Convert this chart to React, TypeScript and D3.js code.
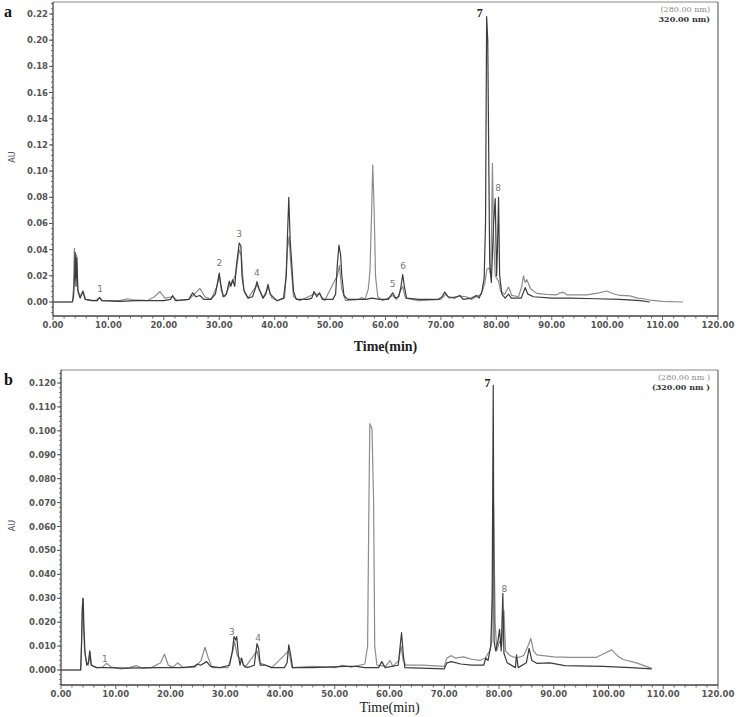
import React from "react";
import * as d3 from "d3";

// chromatogram traces, [time (min), absorbance (AU)]
const aTrace280: [number, number][] = [
  [0, 0], [3.5, 0], [3.7, 0.01], [3.85, 0.041], [4.05, 0.02], [4.25, 0.036], [4.45, 0.01], [4.9, 0.004], [5.4, 0.0085], [5.9, 0.002],
  [7.5, 0.001], [8.4, 0.003], [9, 0.001], [12, 0.001], [13.5, 0.0025], [14.5, 0.0015], [15.7, 0.0015], [17, 0.001], [18.3, 0.004], [19.3, 0.008],
  [20.2, 0.003], [21.6, 0.004], [22.5, 0.001], [24.5, 0.002], [25.3, 0.005], [26.5, 0.0104], [27.4, 0.004], [28.5, 0.002], [29.6, 0.012], [30.0, 0.02],
  [30.4, 0.008], [31, 0.004], [32, 0.014], [32.4, 0.015], [33.0, 0.022], [33.6, 0.04], [34.0, 0.035], [34.4, 0.01], [35.2, 0.003], [36.8, 0.013],
  [37.9, 0.003], [38.8, 0.011], [39.5, 0.003], [40.5, 0.001], [41.8, 0.003], [42.3, 0.04], [42.6, 0.05], [42.9, 0.03], [43.4, 0.004], [44.5, 0.001],
  [47.1, 0.006], [48.1, 0.006], [49, 0.001], [51.3, 0.02], [51.7, 0.028], [52.1, 0.01], [52.8, 0.001], [55.2, 0.002], [55.7, 0.0035], [56.3, 0.002],
  [56.9, 0.01], [57.2, 0.024], [57.5, 0.07], [57.7, 0.1045], [57.95, 0.071], [58.2, 0.02], [58.6, 0.004], [59.5, 0.001], [61.3, 0.005], [62, 0.002],
  [63.1, 0.012], [63.6, 0.003], [66, 0.001], [70, 0.002], [70.9, 0.006], [71.5, 0.003], [72.5, 0.004], [73.4, 0.0045], [74.6, 0.004], [75.5, 0.002],
  [76.4, 0.004], [77.3, 0.006], [77.9, 0.014], [78.3, 0.025], [78.7, 0.026], [79.0, 0.02], [79.15, 0.06], [79.3, 0.106], [79.5, 0.05], [79.8, 0.02],
  [80.4, 0.016], [80.8, 0.008], [81.5, 0.006], [82.2, 0.0114], [82.8, 0.005], [84, 0.004], [84.6, 0.012], [84.9, 0.02], [85.2, 0.015], [85.5, 0.017],
  [86.2, 0.01], [87.3, 0.0066], [89, 0.0058], [90.9, 0.0055], [91.5, 0.007], [92.1, 0.0074], [92.7, 0.0055], [96.3, 0.0055], [98.5, 0.007], [99.9, 0.0084],
  [101, 0.0065], [102.3, 0.005], [104.1, 0.0047], [105.5, 0.003], [106.5, 0.0025], [107.7, 0.0015], [110, 0.0005], [113.7, 0],
];

const aTrace320: [number, number][] = [
  [0, 0], [3.5, 0], [3.7, 0.004], [3.9, 0.02], [4.0, 0.038], [4.15, 0.012], [4.3, 0.034], [4.5, 0.008], [4.9, 0.003], [5.4, 0.008],
  [5.8, 0.002], [7, 0.001], [8.0, 0.001], [8.4, 0.0035], [8.8, 0.001], [12, 0.0005], [15, 0.001], [18, 0.001], [20, 0.001], [21.2, 0.002],
  [21.6, 0.005], [22.1, 0.001], [24.5, 0.002], [25.2, 0.007], [25.8, 0.004], [26.5, 0.005], [27.2, 0.002], [28.5, 0.002], [29.3, 0.006], [29.7, 0.015],
  [30.0, 0.022], [30.3, 0.013], [30.7, 0.004], [31.3, 0.006], [31.8, 0.016], [32.1, 0.012], [32.4, 0.017], [32.8, 0.012], [33.1, 0.028], [33.4, 0.038],
  [33.6, 0.045], [33.9, 0.043], [34.1, 0.02], [34.5, 0.008], [35.2, 0.003], [36.0, 0.004], [36.5, 0.01], [36.8, 0.0155], [37.2, 0.01], [37.9, 0.003],
  [38.4, 0.006], [38.8, 0.0135], [39.2, 0.006], [40.4, 0.001], [41.6, 0.003], [42.1, 0.02], [42.3, 0.049], [42.55, 0.08], [42.8, 0.047], [43.1, 0.028],
  [43.4, 0.008], [43.9, 0.002], [46.0, 0.002], [46.7, 0.003], [47.1, 0.008], [47.6, 0.004], [48.1, 0.007], [48.6, 0.002], [50.5, 0.002], [51.0, 0.006],
  [51.3, 0.028], [51.6, 0.0435], [51.9, 0.036], [52.1, 0.021], [52.5, 0.005], [53.2, 0.002], [56.5, 0.002], [57.5, 0.003], [59, 0.002], [60.5, 0.002],
  [61.3, 0.007], [61.8, 0.003], [62.4, 0.004], [62.8, 0.012], [63.1, 0.021], [63.4, 0.012], [63.8, 0.003], [66, 0.002], [69.5, 0.002], [70.2, 0.004],
  [70.7, 0.0075], [71.3, 0.004], [72.5, 0.003], [73.4, 0.005], [74, 0.002], [75.5, 0.003], [76.4, 0.005], [76.9, 0.003], [77.4, 0.008], [77.8, 0.018],
  [78.05, 0.06], [78.25, 0.218], [78.45, 0.2], [78.6, 0.126], [78.8, 0.03], [79.1, 0.015], [79.5, 0.06], [79.8, 0.079], [80.05, 0.02], [80.2, 0.04],
  [80.4, 0.08], [80.6, 0.02], [81.0, 0.006], [81.6, 0.003], [82.2, 0.006], [82.7, 0.003], [84.5, 0.003], [85.2, 0.011], [85.7, 0.006], [86.7, 0.004],
  [90, 0.003], [93.3, 0.003], [98, 0.0025], [102.3, 0.002], [106, 0.001], [107.7, 0],
];

const bTrace280: [number, number][] = [
  [0, 0], [3.6, 0], [3.75, 0.012], [3.95, 0.03], [4.1, 0.02], [4.3, 0.008], [4.6, 0.004], [5.0, 0.002], [5.3, 0.0075], [5.6, 0.002],
  [6.5, 0.001], [7.6, 0.0012], [8.3, 0.0028], [9.2, 0.0012], [11, 0.0005], [12.5, 0.001], [13.8, 0.0018], [14.8, 0.0008], [16.5, 0.001], [18.2, 0.003],
  [18.9, 0.0066], [19.6, 0.002], [20.5, 0.0012], [21.3, 0.003], [22.3, 0.001], [24.5, 0.0012], [25.6, 0.004], [26.3, 0.0095], [26.9, 0.005], [27.6, 0.001],
  [30.5, 0.001], [31.4, 0.008], [31.7, 0.012], [32.2, 0.006], [33, 0.004], [33.6, 0.001], [35.8, 0.008], [36.3, 0.003], [37.4, 0.002], [38.5, 0.001],
  [41.6, 0.008], [42.2, 0.001], [46, 0.0015], [50, 0.001], [51.4, 0.002], [53, 0.0012], [54.5, 0.002], [55.5, 0.0025], [56.0, 0.01], [56.2, 0.06],
  [56.4, 0.103], [56.8, 0.101], [57.1, 0.07], [57.3, 0.01], [57.7, 0.002], [59.3, 0.0015], [60.1, 0.004], [60.6, 0.0015], [61.7, 0.004], [62.1, 0.01],
  [62.5, 0.004], [63, 0.002], [66, 0.002], [70, 0.0015], [70.5, 0.005], [71.3, 0.006], [72, 0.005], [73.5, 0.0055], [75, 0.0045], [76.5, 0.004],
  [77.5, 0.005], [78.3, 0.008], [78.7, 0.012], [79.0, 0.07], [79.3, 0.0196], [79.6, 0.008], [80.1, 0.012], [80.5, 0.01], [80.9, 0.025], [81.2, 0.008],
  [82, 0.006], [83.2, 0.005], [84.5, 0.006], [85.3, 0.01], [85.8, 0.0132], [86.3, 0.008], [86.9, 0.0063], [90, 0.0055], [93, 0.0053], [97.8, 0.0053],
  [99.3, 0.007], [100.6, 0.0084], [101.6, 0.006], [102.7, 0.0044], [105.1, 0.003], [107.9, 0.0007],
];

const bTrace320: [number, number][] = [
  [0, 0], [3.6, 0], [3.75, 0.01], [3.9, 0.026], [4.05, 0.03], [4.2, 0.017], [4.4, 0.007], [4.7, 0.002], [5.0, 0.003], [5.25, 0.008],
  [5.5, 0.002], [6.5, 0.001], [8, 0.001], [12, 0.0008], [18, 0.001], [22, 0.001], [24.3, 0.0015], [24.9, 0.0025], [25.5, 0.002], [26.6, 0.0035],
  [27.3, 0.0015], [29, 0.001], [30.8, 0.002], [31.3, 0.008], [31.6, 0.014], [31.9, 0.0125], [32.1, 0.014], [32.4, 0.006], [32.7, 0.002], [33.0, 0.005],
  [33.3, 0.002], [34, 0.001], [35.3, 0.002], [35.8, 0.011], [36.1, 0.009], [36.4, 0.002], [37.4, 0.002], [38.5, 0.001], [40.8, 0.001], [41.3, 0.003],
  [41.6, 0.0105], [41.9, 0.007], [42.3, 0.001], [46, 0.001], [52, 0.0015], [54, 0.0015], [55.5, 0.001], [58, 0.001], [58.6, 0.0035], [59.2, 0.001],
  [61.6, 0.002], [61.9, 0.009], [62.2, 0.0156], [62.5, 0.007], [62.8, 0.001], [70, 0.0005], [70.5, 0.003], [71.3, 0.0035], [73, 0.0025], [75, 0.002],
  [77.2, 0.002], [77.6, 0.005], [78.0, 0.004], [78.5, 0.01], [78.75, 0.03], [78.95, 0.119], [79.1, 0.012], [79.4, 0.008], [79.8, 0.012], [80.1, 0.017],
  [80.4, 0.008], [80.7, 0.032], [80.9, 0.007], [81.5, 0.003], [83.0, 0.001], [83.2, 0.0063], [83.5, 0.001], [85, 0.003], [85.5, 0.009], [86.0, 0.004],
  [86.9, 0.0028], [89.3, 0.003], [92, 0.0018], [99, 0.0015], [104, 0.001], [107.9, 0.0005],
];

// peak numbers: [time, AU at label, text]
const aPeakLabels: [number, number, string][] = [
  [8.5, 0.0075, "1"], [30.0, 0.0275, "2"], [33.6, 0.05, "3"], [36.8, 0.0195, "4"],
  [61.3, 0.0115, "5"], [63.2, 0.0255, "6"], [80.3, 0.0845, "8"],
];
const bPeakLabels: [number, number, string][] = [
  [8.0, 0.0035, "1"], [31.2, 0.0145, "3"], [36.0, 0.012, "4"], [81.0, 0.0325, "8"],
];
const peak7A: [number, number] = [77.0, 0.221];
const peak7B: [number, number] = [77.9, 0.12];

const timeTicks = d3.range(0, 121, 10);
const timeMinor = d3.range(0, 121, 2);
const auTicksA = d3.range(0, 0.2201, 0.02);
const auTicksB = d3.range(0, 0.1201, 0.01);

const legendA = ["(280.00 nm)", "320.00 nm)"];
const legendB = ["(280.00 nm  )", "(320.00 nm  )"];

const LIGHT = "#8c8c8c";
const DARK = "#3c3c3c";

type PanelProps = {
  tag: string;
  xr: [number, number];
  y0: number;
  yTopVal: number;
  yTopPx: number;
  frameTop: number;
  frameBottom: number;
  yTicks: number[];
  yMinorStep: number;
  fmt: string;
  light: [number, number][];
  dark: [number, number][];
  labels: [number, number, string][];
  peak7: [number, number];
  legend: string[];
  xlabelBold: boolean;
  xlabelY: number;
};

function Panel(p: PanelProps) {
  const x = d3.scaleLinear().domain([0, 120]).range(p.xr);
  const y = d3.scaleLinear().domain([0, p.yTopVal]).range([p.y0, p.yTopPx]);
  const line = d3.line<[number, number]>().x((d) => x(d[0])).y((d) => y(d[1]));
  const fmt = d3.format(p.fmt);
  const left = p.xr[0];
  const right = p.xr[1];
  const lo = y.invert(p.frameBottom);
  const hi = y.invert(p.frameTop);
  const minor = d3.range(Math.ceil(lo / p.yMinorStep) * p.yMinorStep, hi, p.yMinorStep);
  const tickFont = { fontFamily: "DejaVu Sans", fontWeight: 700, fontSize: 8.5, fill: "#555" } as const;

  return (
    <g>
      {/* frame */}
      <line x1={left} x2={right} y1={p.frameTop} y2={p.frameTop} stroke="#888" strokeWidth={1} />
      <line x1={right} x2={right} y1={p.frameTop} y2={p.frameBottom} stroke="#666" strokeWidth={1.2} />
      <line x1={left} x2={right} y1={p.frameBottom} y2={p.frameBottom} stroke="#444" strokeWidth={1.3} />
      <line x1={left} x2={left} y1={p.frameTop} y2={p.frameBottom} stroke="#444" strokeWidth={1.3} />

      {/* y axis */}
      {minor.map((v, i) => (
        <line key={"ym" + i} x1={left - 2} x2={left} y1={y(v)} y2={y(v)} stroke="#555" strokeWidth={0.8} />
      ))}
      {p.yTicks.map((v, i) => (
        <g key={"y" + i}>
          <line x1={left - 4} x2={left} y1={y(v)} y2={y(v)} stroke="#555" strokeWidth={1} />
          <text x={left - 5} y={y(v) + 3} textAnchor="end" {...tickFont}>{fmt(v)}</text>
        </g>
      ))}

      {/* x axis */}
      {timeMinor.map((t, i) => (
        <line key={"xm" + i} x1={x(t)} x2={x(t)} y1={p.frameBottom} y2={p.frameBottom + (t % 10 === 0 ? 4 : 2.5)} stroke="#555" strokeWidth={0.9} />
      ))}
      {timeTicks.map((t, i) => (
        <text key={"x" + i} x={x(t)} y={p.frameBottom + 12} textAnchor="middle" {...tickFont}>{t.toFixed(2)}</text>
      ))}

      {/* traces */}
      <path d={line(p.light) || ""} fill="none" stroke={LIGHT} strokeWidth={1.2} strokeLinejoin="round" />
      <path d={line(p.dark) || ""} fill="none" stroke={DARK} strokeWidth={1.2} strokeLinejoin="round" />

      {/* peak numbers */}
      {p.labels.map(([t, v, s], i) => (
        <text key={"pl" + i} x={x(t)} y={y(v)} textAnchor="middle" fontFamily="DejaVu Sans" fontSize={9} fill="#777">{s}</text>
      ))}
      <text x={x(p.peak7[0])} y={y(p.peak7[1]) + 4} textAnchor="middle" fontFamily="Liberation Serif" fontWeight={700} fontSize={12} fill="#222">7</text>

      {/* legend */}
      <text x={right - 8} y={p.frameTop + 10} textAnchor="end" fontFamily="DejaVu Serif" fontSize={8} fill="#888">{p.legend[0]}</text>
      <text x={right - 8} y={p.frameTop + 20} textAnchor="end" fontFamily="DejaVu Serif" fontWeight={700} fontSize={8} fill="#333">{p.legend[1]}</text>

      {/* labels */}
      <text x={4} y={p.frameTop + 15} fontFamily="Liberation Serif" fontWeight={700} fontSize={16} fill="#111">{p.tag}</text>
      <text transform={`translate(15,${(p.frameTop + p.frameBottom) / 2 - 2}) rotate(-90)`} textAnchor="middle" fontFamily="DejaVu Sans" fontSize={8} fill="#555">AU</text>
      <text x={(left + right) / 2} y={p.xlabelY} textAnchor="middle" fontFamily="Liberation Serif" fontWeight={p.xlabelBold ? 700 : 400} fontSize={14} fill="#222">Time(min)</text>
    </g>
  );
}

export default function App() {
  return (
    <div style={{ position: "absolute", left: 0, top: 0 }}>
      <svg width={738} height={717} style={{ display: "block", background: "#fff" }}>
        <Panel
          tag="a" xr={[53, 718]} y0={302} yTopVal={0.22} yTopPx={14} frameTop={2} frameBottom={316}
          yTicks={auTicksA} yMinorStep={0.004} fmt=".2f"
          light={aTrace280} dark={aTrace320} labels={aPeakLabels} peak7={peak7A}
          legend={legendA} xlabelBold={true} xlabelY={351}
        />
        <Panel
          tag="b" xr={[61, 718]} y0={670} yTopVal={0.12} yTopPx={383} frameTop={370} frameBottom={685}
          yTicks={auTicksB} yMinorStep={0.002} fmt=".3f"
          light={bTrace280} dark={bTrace320} labels={bPeakLabels} peak7={peak7B}
          legend={legendB} xlabelBold={false} xlabelY={712}
        />
      </svg>
    </div>
  );
}
